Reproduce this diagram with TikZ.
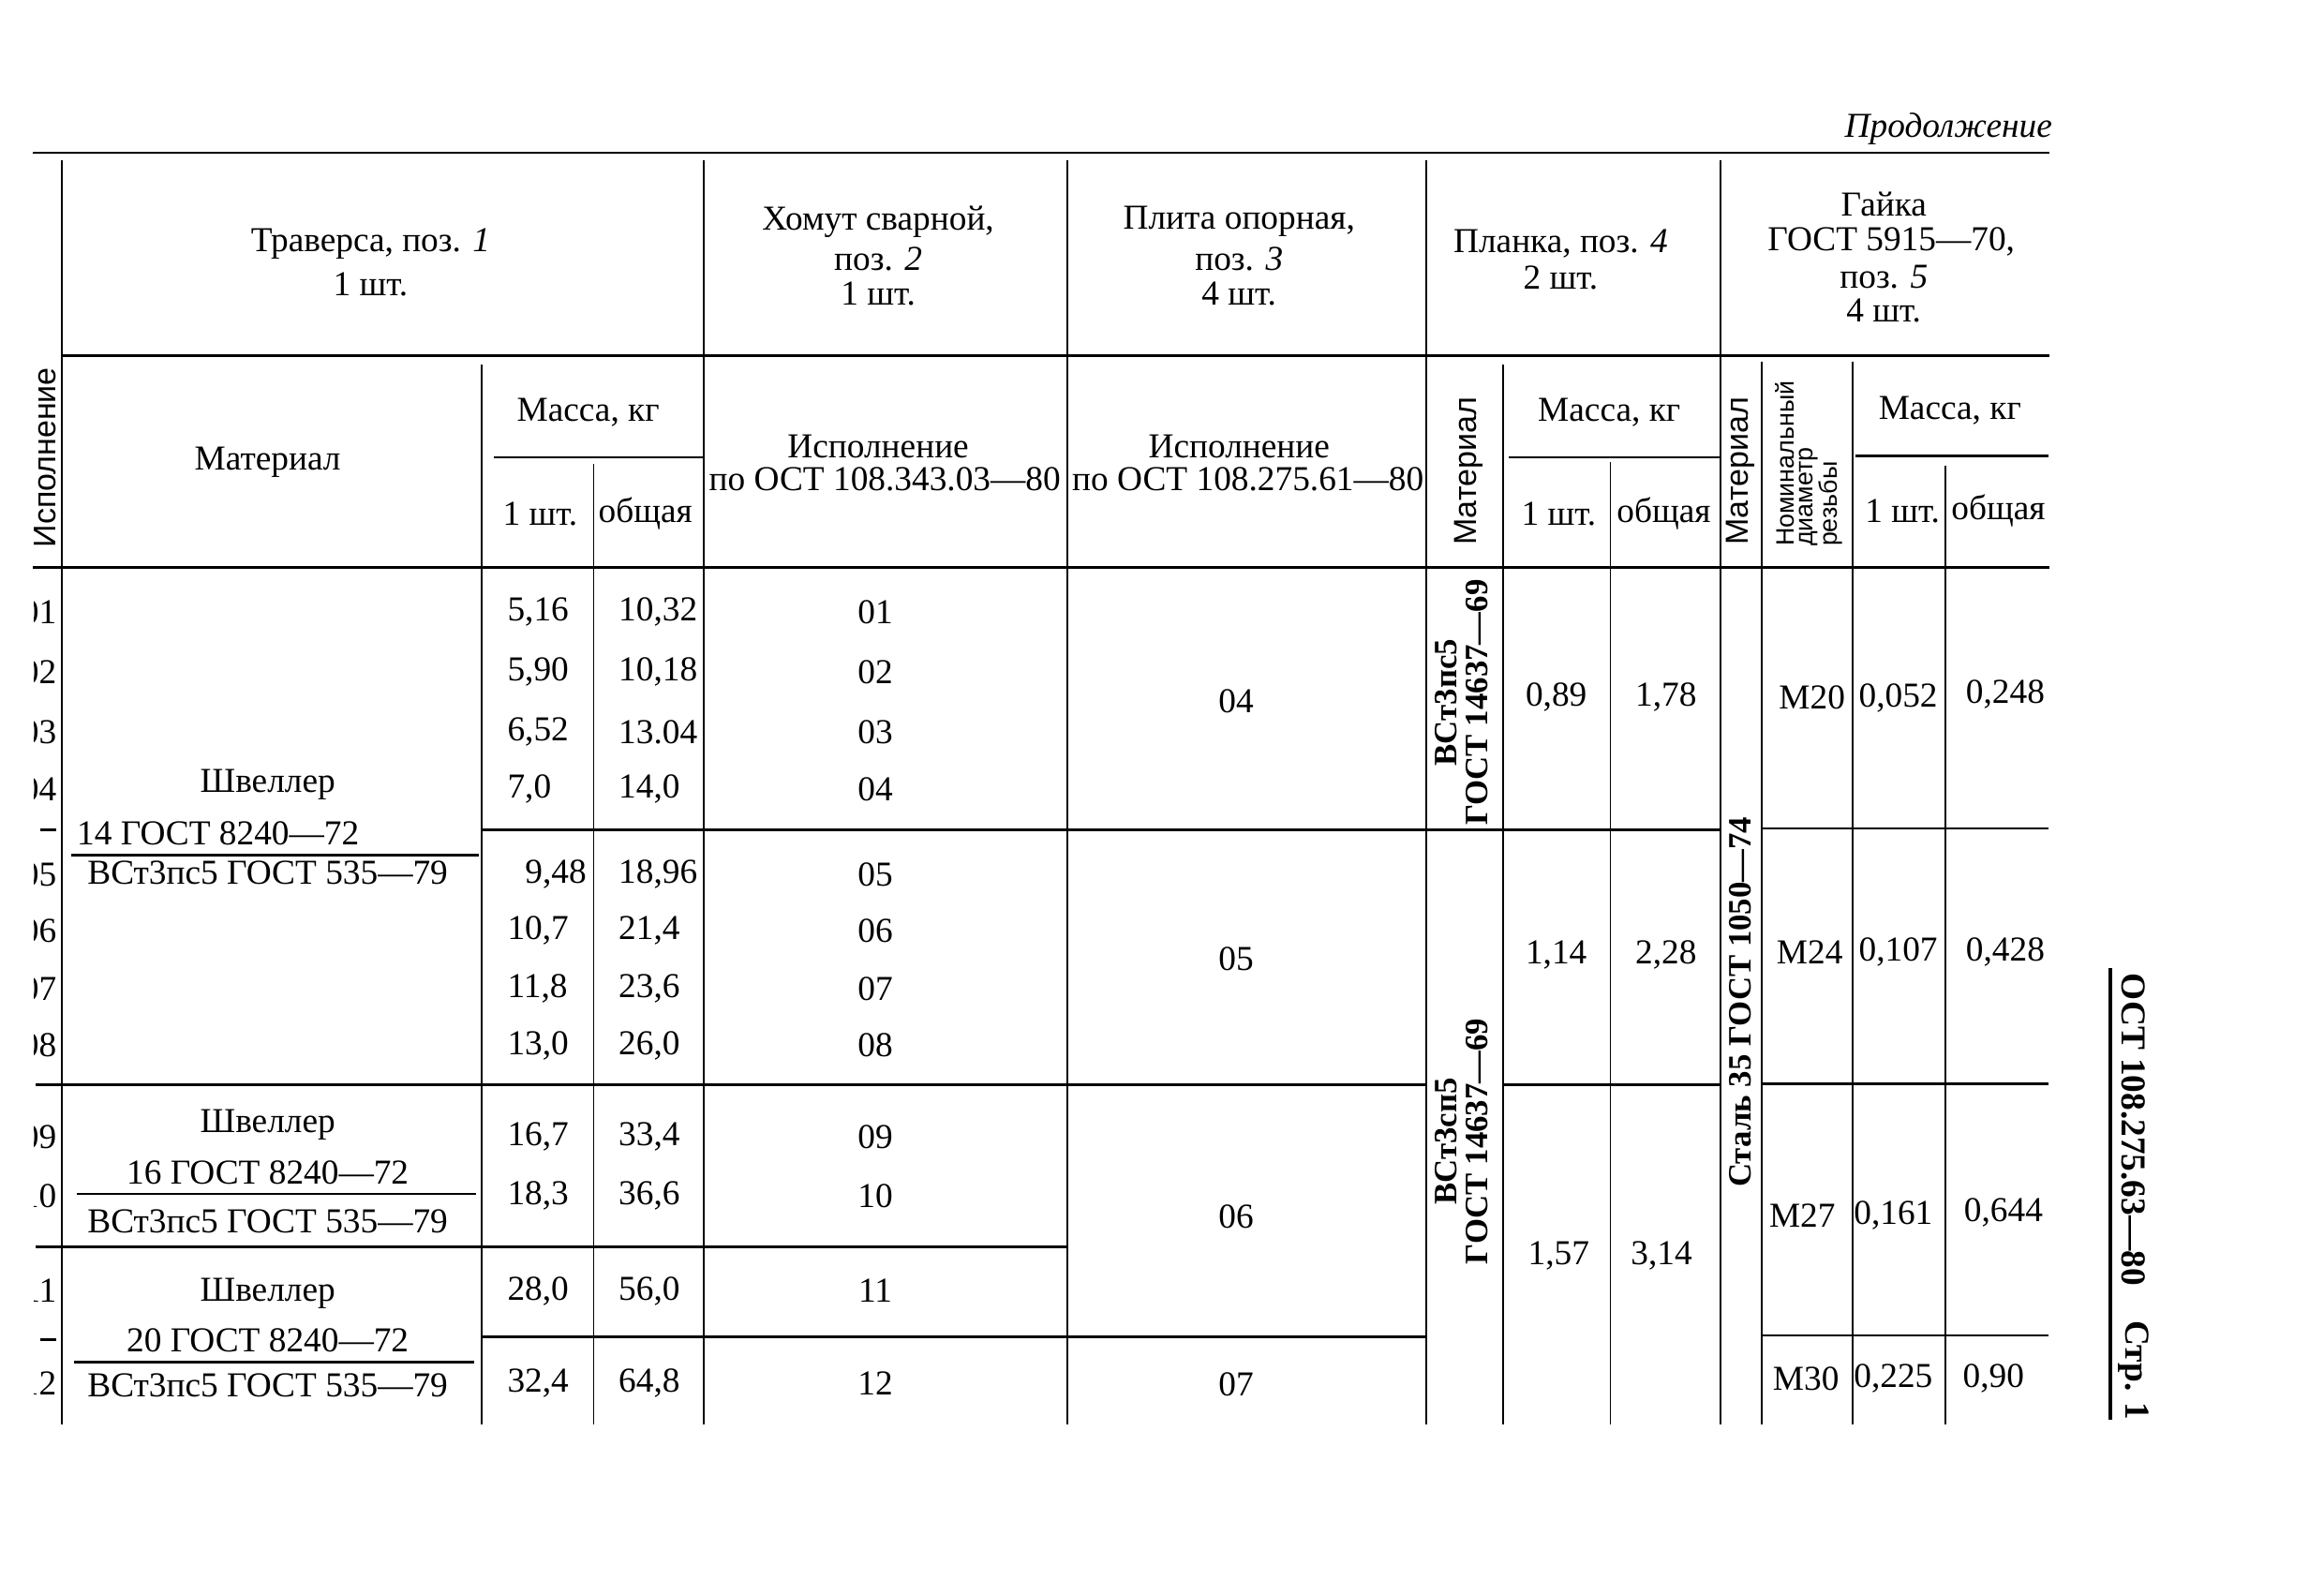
\documentclass[tikz,border=0pt]{standalone}
\usepackage{fontspec}
\setmainfont{Liberation Serif}
\setsansfont{Liberation Sans}
\newcommand\mf{\fontsize{11.8}{12}\selectfont}
\newcommand\rsfont{\sffamily\fontsize{10.75}{11}\selectfont}
\newcommand\smsf{\sffamily\fontsize{8.5}{9}\selectfont}
\newcommand\rbf{\bfseries\fontsize{11}{10.5}\selectfont}
\newcommand\obf{\bfseries\fontsize{11.8}{12}\selectfont}
\begin{document}
\begin{tikzpicture}[x=0.5pt,y=-0.5pt,
  t/.style={inner sep=0pt,font=\mf},
  hl/.style={line width=0.85pt},
  vl/.style={line width=0.6pt}]
\useasboundingbox (0,0) rectangle (1568,1076);

% ---------- rules ----------
\draw[hl] (22,103) -- (1383,103);
\draw[hl] (42,240) -- (1383,240);
\draw[hl] (22,383) -- (1383,383);
\draw[hl] (333,308.6) -- (474,308.6);
\draw[hl] (1018,308.6) -- (1160,308.6);
\draw[hl] (1252,307.7) -- (1382,307.7);
\foreach \x in {42,475,720,962,1161} \draw[vl] (\x,108) -- (\x,961);
\draw[vl] (325,246) -- (325,961);
\draw[vl] (400.5,313) -- (400.5,961);
\draw[vl] (1014,246) -- (1014,961);
\draw[vl] (1086.5,312) -- (1086.5,961);
\draw[vl] (1188.5,244) -- (1188.5,961);
\draw[vl] (1250,244) -- (1250,961);
\draw[vl] (1312.5,314) -- (1312.5,961);
% data rules
\draw[hl] (325,560) -- (1161,560);
\draw[hl] (1188,559) -- (1382,559);
\draw[hl] (27,560) -- (38,560);
\draw[hl] (24,732) -- (962,732);
\draw[hl] (1014,732) -- (1161,732);
\draw[hl] (1188,731) -- (1382,731);
\draw[hl] (24,841) -- (720,841);
\draw[hl] (325,902) -- (962,902);
\draw[hl] (1188,901) -- (1382,901);
\draw[hl] (27,904) -- (38,904);
% fraction rules in material
\draw[hl] (48,577) -- (323,577);
\draw[hl] (52,805.5) -- (321,805.5);
\draw[hl] (50,919) -- (320,919);
% side rule
\draw[line width=1.3pt] (1424,653) -- (1424,958);

% ---------- header ----------
\node[t,font=\mf\itshape,anchor=east] (cont) at (1385,87) {Продолжение};
\node[t] (tr1) at (250,164.5) {Траверса, поз. \textit{1}};
\node[t] (tr2) at (250,191.7) {1 шт.};
\node[t] (hm1) at (592.5,149.6) {Хомут сварной,};
\node[t] (hm2) at (592.5,175) {поз. \textit{2}};
\node[t] (hm3) at (592.5,198) {1 шт.};
\node[t] (pl1) at (836,149.6) {Плита опорная,};
\node[t] (pl2) at (836,175) {поз. \textit{3}};
\node[t] (pl3) at (836,198) {4 шт.};
\node[t] (pn1) at (1053,164.4) {Планка, поз. \textit{4}};
\node[t] (pn2) at (1053,187.6) {2 шт.};
\node[t] (gk1) at (1271,137.5) {Гайка};
\node[t] (gk2) at (1276,163) {ГОСТ 5915—70,};
\node[t] (gk3) at (1271,187) {поз. \textit{5}};
\node[t] (gk4) at (1271,209.5) {4 шт.};

\node[t] (trm) at (180.6,311.8) {Материал};
\node[t] (trms) at (396.8,278) {Масса, кг};
\node[t] (tr1s) at (364.5,346.7) {1 шт.};
\node[t] (trob) at (435.5,346.7) {общая};
\node[t] (hmi1) at (592.5,301.4) {Исполнение};
\node[t] (hmi2) at (597,323.5) {по ОСТ 108.343.03—80};
\node[t] (pli1) at (836,301.4) {Исполнение};
\node[t] (pli2) at (842,323.5) {по ОСТ 108.275.61—80};
\node[t,font=\rsfont,rotate=90] (pnm) at (991,318) {Материал};
\node[t] (pnms) at (1085.7,278) {Масса, кг};
\node[t] (pn1s) at (1051.7,346.6) {1 шт.};
\node[t] (pnob) at (1122.6,346.6) {общая};
\node[t,font=\rsfont,rotate=90] (gkm) at (1174,318) {Материал};
\node[t,font=\smsf,rotate=90,anchor=west] (nom1) at (1204.5,369) {Номинальный};
\node[t,font=\smsf,rotate=90,anchor=west] (nom2) at (1220.3,369) {диаметр};
\node[t,font=\smsf,rotate=90,anchor=west] (nom3) at (1235,369) {резьбы};
\node[t] (gkms) at (1315.6,277) {Масса, кг};
\node[t] (gk1s) at (1283.5,344.6) {1 шт.};
\node[t] (gkob) at (1348.3,344.6) {общая};

% ---------- left column (clipped by the scan edge) ----------
\begin{scope}
\clip (23,0) rectangle (42,1076);
\node[t,font=\rsfont,rotate=90,anchor=base] (isp) at (37.5,308.7) {Исполнение};
\foreach \y/\n [count=\i] in {413/01,453.5/02,494/03,532.4/04,590/05,628/06,667/07,705.4/08,767/09,807/10,871/11,933/12}
  \node[t,anchor=east] (row\i) at (38.5,\y) {\n};
\end{scope}

% ---------- Traversa: material ----------
\node[t] (sh1) at (180.6,529.3) {Швеллер};
\node[t,anchor=west] (sh1a) at (51.6,562) {14 ГОСТ 8240—72};
\node[t] (sh1b) at (180.6,589) {ВСт3пс5 ГОСТ 535—79};
\node[t] (sh2) at (180.6,758.7) {Швеллер};
\node[t] (sh2a) at (180.6,791.4) {16 ГОСТ 8240—72};
\node[t] (sh2b) at (180.6,824) {ВСт3пс5 ГОСТ 535—79};
\node[t] (sh3) at (180.6,872.5) {Швеллер};
\node[t] (sh3a) at (180.6,904) {20 ГОСТ 8240—72};
\node[t] (sh3b) at (180.6,934.7) {ВСт3пс5 ГОСТ 535—79};

% ---------- Traversa: masses, Khomut ----------
\foreach \y/\a/\b/\h [count=\i] in {413/{5,16}/{10,32}/01,453.5/{5,90}/{10,18}/02,494/{6,52}/{13.04}/03,532.4/{7,0}/{14,0}/04,590/{}/{18,96}/05,628/{10,7}/{21,4}/06,667/{11,8}/{23,6}/07,705.4/{13,0}/{26,0}/08,767/{16,7}/{33,4}/09,807/{18,3}/{36,6}/10,871/{28,0}/{56,0}/11,933/{32,4}/{64,8}/12}{
  \node[t,anchor=west] (ma\i) at (342,\y) {\a};
  \node[t,anchor=west] (mb\i) at (417,\y) {\b};
  \node[t] (hk\i) at (590.6,\y) {\h};
}
\node[t,anchor=east] (ma5x) at (396,590) {9,48};

% ---------- Plita ----------
\node[t] (pv1) at (834,473) {04};
\node[t] (pv2) at (834,646.7) {05};
\node[t] (pv3) at (834,820.7) {06};
\node[t] (pv4) at (834,933.7) {07};

% ---------- Planka ----------
\node[t,font=\rbf,rotate=90,align=center] (pmat1) at (986,474) {ВСт3пс5\\ГОСТ 14637—69};
\node[t,font=\rbf,rotate=90,align=center] (pmat2) at (986,770) {ВСт3сп5\\ГОСТ 14637—69};
\node[t] (pa1) at (1050,470.5) {0,89};
\node[t] (pb1) at (1124,470.5) {1,78};
\node[t] (pa2) at (1050,644.4) {1,14};
\node[t] (pb2) at (1124,644.4) {2,28};
\node[t] (pa3) at (1051.6,847) {1,57};
\node[t] (pb3) at (1121,847) {3,14};

% ---------- Gayka ----------
\node[t,font=\rbf,rotate=90] (gmat) at (1174,676) {Сталь 35 ГОСТ 1050—74};
\node[t] (gd1) at (1222.6,470.8) {М20};
\node[t] (ga1) at (1280.7,470.8) {0,052};
\node[t] (gb1) at (1353,468.3) {0,248};
\node[t] (gd2) at (1221,642.2) {М24};
\node[t] (ga2) at (1280.7,642.2) {0,107};
\node[t] (gb2) at (1353,642.2) {0,428};
\node[t] (gd3) at (1216,820) {М27};
\node[t] (ga3) at (1277.4,820) {0,161};
\node[t] (gb3) at (1351.7,818) {0,644};
\node[t] (gd4) at (1218.5,930.5) {М30};
\node[t] (ga4) at (1277.4,930) {0,225};
\node[t] (gb4) at (1345,930) {0,90};

% ---------- side caption ----------
\node[t,font=\obf,rotate=-90] (ost) at (1439.5,762) {ОСТ 108.275.63—80};
\node[t,font=\obf,rotate=-90] (str) at (1439.5,924.5) {Стр. 1};
\end{tikzpicture}
\end{document}
